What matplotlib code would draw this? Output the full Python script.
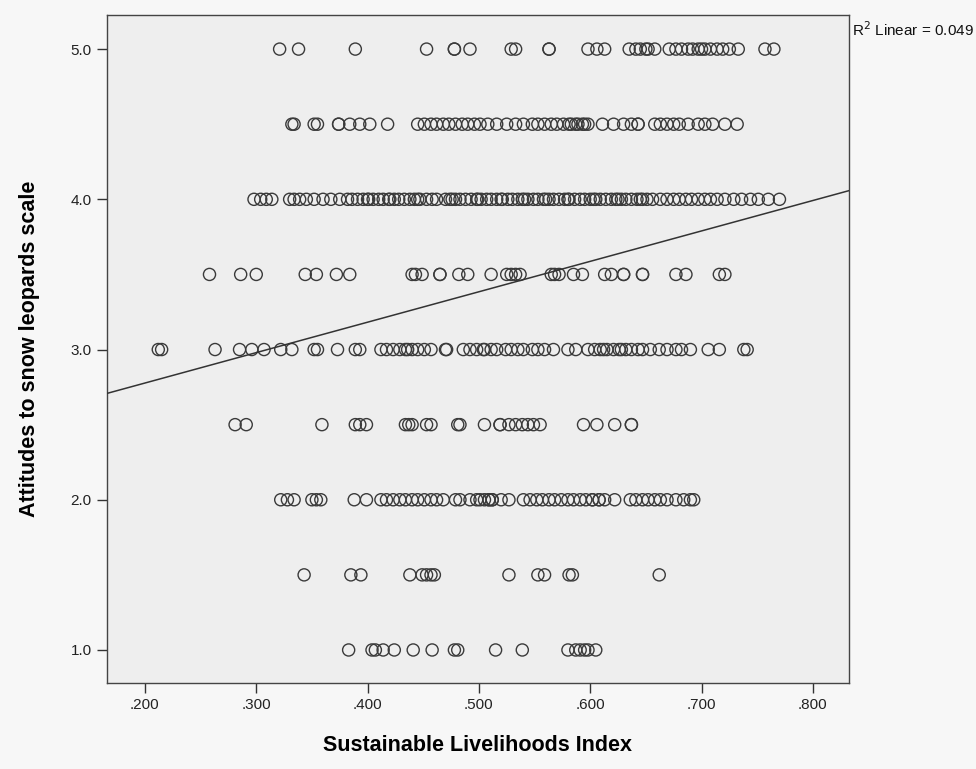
import matplotlib
matplotlib.use("Agg")
import matplotlib.pyplot as plt
import numpy as np

# ---- data ----
score_levels = [5.0, 4.5, 4.0, 3.5, 3.0, 2.5, 2.0, 1.5, 1.0]

sli_5_0 = [0.321, 0.338, 0.389, 0.453, 0.478, 0.478, 0.492, 0.529, 0.533, 0.563,
           0.563, 0.598, 0.606, 0.613, 0.635, 0.641, 0.645, 0.650, 0.652, 0.658,
           0.671, 0.677, 0.682, 0.688, 0.692, 0.697, 0.700, 0.703, 0.708, 0.714,
           0.719, 0.725, 0.733, 0.757, 0.765]
sli_4_5 = [0.332, 0.334, 0.352, 0.355, 0.374, 0.374, 0.384, 0.393, 0.402, 0.418,
           0.445, 0.451, 0.457, 0.462, 0.468, 0.473, 0.479, 0.485, 0.490, 0.496,
           0.501, 0.508, 0.516, 0.525, 0.533, 0.540, 0.548, 0.553, 0.559, 0.565,
           0.570, 0.576, 0.581, 0.583, 0.587, 0.589, 0.593, 0.595, 0.598, 0.611,
           0.621, 0.630, 0.637, 0.643, 0.643, 0.658, 0.663, 0.669, 0.675, 0.680,
           0.688, 0.697, 0.703, 0.710, 0.721, 0.732]
sli_4_0 = [0.298, 0.304, 0.309, 0.314, 0.330, 0.334, 0.339, 0.345, 0.352, 0.360,
           0.367, 0.375, 0.382, 0.386, 0.391, 0.396, 0.401, 0.405, 0.410, 0.414,
           0.419, 0.424, 0.428, 0.433, 0.438, 0.442, 0.447, 0.453, 0.458, 0.462,
           0.470, 0.474, 0.479, 0.483, 0.488, 0.493, 0.498, 0.502, 0.507, 0.511,
           0.516, 0.521, 0.526, 0.530, 0.535, 0.539, 0.544, 0.549, 0.553, 0.558,
           0.563, 0.567, 0.572, 0.577, 0.581, 0.586, 0.591, 0.595, 0.600, 0.605,
           0.609, 0.614, 0.619, 0.623, 0.628, 0.632, 0.637, 0.642, 0.647, 0.651,
           0.656, 0.663, 0.669, 0.675, 0.680, 0.686, 0.691, 0.697, 0.703, 0.708,
           0.714, 0.721, 0.729, 0.736, 0.744, 0.751, 0.760, 0.770,
           0.400, 0.420, 0.445, 0.476, 0.499, 0.520, 0.541, 0.560, 0.580, 0.603,
           0.625, 0.645]
sli_3_5 = [0.258, 0.286, 0.300, 0.344, 0.354, 0.372, 0.384, 0.440, 0.443, 0.449,
           0.465, 0.465, 0.482, 0.490, 0.511, 0.525, 0.529, 0.533, 0.537, 0.565,
           0.568, 0.572, 0.585, 0.593, 0.613, 0.619, 0.630, 0.630, 0.647, 0.647,
           0.677, 0.686, 0.716, 0.721]
sli_3_0 = [0.212, 0.215, 0.263, 0.285, 0.296, 0.307, 0.322, 0.332, 0.352, 0.355,
           0.373, 0.389, 0.393, 0.412, 0.417, 0.423, 0.429, 0.434, 0.440, 0.445,
           0.451, 0.457, 0.470, 0.471, 0.486, 0.492, 0.498, 0.505, 0.511, 0.516,
           0.524, 0.529, 0.535, 0.540, 0.548, 0.553, 0.559, 0.567, 0.580, 0.587,
           0.598, 0.604, 0.609, 0.615, 0.621, 0.626, 0.632, 0.637, 0.643, 0.647,
           0.654, 0.662, 0.669, 0.677, 0.682, 0.690, 0.706, 0.716, 0.738, 0.741,
           0.436, 0.504, 0.612, 0.628]
sli_2_5 = [0.281, 0.291, 0.359, 0.389, 0.393, 0.399, 0.434, 0.437, 0.440, 0.453,
           0.457, 0.481, 0.483, 0.505, 0.519, 0.519, 0.527, 0.533, 0.539, 0.544,
           0.549, 0.555, 0.594, 0.606, 0.622, 0.637, 0.637]
sli_2_0 = [0.322, 0.328, 0.334, 0.350, 0.354, 0.358, 0.388, 0.399, 0.412, 0.417,
           0.423, 0.429, 0.434, 0.440, 0.445, 0.451, 0.457, 0.462, 0.468, 0.479,
           0.483, 0.492, 0.498, 0.501, 0.505, 0.509, 0.512, 0.509, 0.512, 0.520,
           0.527, 0.540, 0.546, 0.552, 0.557, 0.563, 0.568, 0.574, 0.580, 0.585,
           0.591, 0.596, 0.602, 0.608, 0.613, 0.602, 0.608, 0.622, 0.636, 0.641,
           0.647, 0.652, 0.658, 0.663, 0.669, 0.677, 0.684, 0.690, 0.693]
sli_1_5 = [0.343, 0.385, 0.394, 0.438, 0.449, 0.453, 0.457, 0.460, 0.527, 0.553,
           0.559, 0.581, 0.584, 0.662]
sli_1_0 = [0.383, 0.404, 0.407, 0.414, 0.424, 0.441, 0.458, 0.478, 0.481, 0.515,
           0.539, 0.580, 0.587, 0.591, 0.595, 0.598, 0.605]

rows = [sli_5_0, sli_4_5, sli_4_0, sli_3_5, sli_3_0, sli_2_5, sli_2_0, sli_1_5, sli_1_0]

fit_intercept = 2.372
fit_slope = 2.025
r2_text = "R$^2$ Linear = 0.049"

x_ticks = [0.2, 0.3, 0.4, 0.5, 0.6, 0.7, 0.8]
x_ticklabels = [".200", ".300", ".400", ".500", ".600", ".700", ".800"]
y_ticks = [1.0, 2.0, 3.0, 4.0, 5.0]
y_ticklabels = ["1.0", "2.0", "3.0", "4.0", "5.0"]

x_label = "Sustainable Livelihoods Index"
y_label = "Attitudes to snow leopards scale"

# ---- figure ----
plt.rcParams['font.family'] = ['Liberation Sans', 'DejaVu Sans']
fig = plt.figure(figsize=(9.76, 7.69), dpi=100, facecolor='#f7f7f7')
ax = fig.add_axes([0.1096, 0.1118, 0.7603, 0.8687])
ax.set_facecolor('#eeeeee')

xs = np.concatenate([np.asarray(r) for r in rows])
ys = np.concatenate([np.full(len(r), lvl) for r, lvl in zip(rows, score_levels)])
ax.scatter(xs, ys, s=76, facecolors='none', edgecolors='#3a3a3a', linewidths=1.0, zorder=3)

xlim = (0.1659, 0.8325)
ylim = (0.78, 5.227)
ax.set_xlim(*xlim)
ax.set_ylim(*ylim)

lx = np.array(xlim)
ax.plot(lx, fit_intercept + fit_slope * lx, color='#333333', lw=1.1, zorder=4)

ax.set_xticks(x_ticks)
ax.set_xticklabels(x_ticklabels)
ax.set_yticks(y_ticks)
ax.set_yticklabels(y_ticklabels)
ax.tick_params(direction='out', length=7, width=1, color='#333333',
               labelsize=11, labelcolor='#222222', pad=4)
for sp in ax.spines.values():
    sp.set_color('#444444')
    sp.set_linewidth(1.0)

label_font = ['Liberation Sans Narrow', 'Liberation Sans', 'DejaVu Sans']
ax.set_xlabel(x_label, fontsize=15.5, fontweight='bold', family=label_font, labelpad=16)
ax.set_ylabel(y_label, fontsize=15.5, fontweight='bold', family=label_font, labelpad=22)

fig.text(0.873, 0.962, r2_text, fontsize=11, color='#111111', ha='left', va='center')

fig.savefig('out.png', dpi=100, facecolor=fig.get_facecolor())
